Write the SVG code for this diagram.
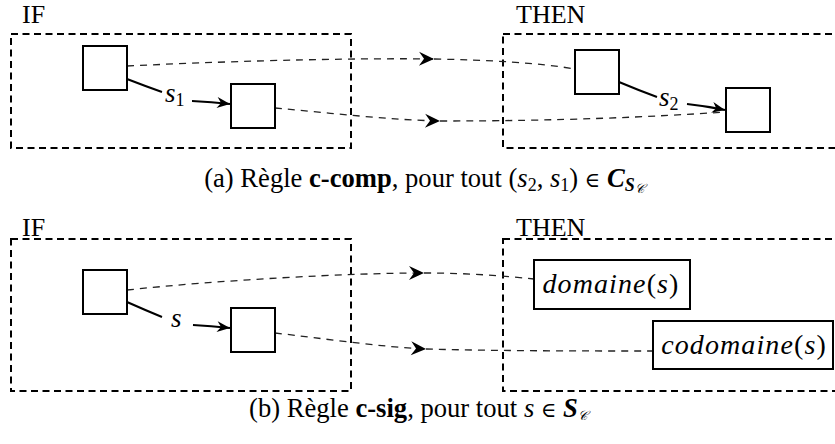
<svg xmlns="http://www.w3.org/2000/svg" width="835" height="444" viewBox="0 0 835 444">
<style>
text{font-family:"Liberation Serif","Times New Roman",serif;fill:#000}
.ttl{font-size:26px}
.cap{font-size:26.6px}
.frame{fill:none;stroke:#000;stroke-width:2;stroke-dasharray:7 4.5}
.box{fill:#fff;stroke:#000;stroke-width:2}
.link{fill:none;stroke:#222;stroke-width:1.3;stroke-dasharray:7 6}
.edge{fill:none;stroke:#000;stroke-width:2}
.it{font-style:italic}
.lbl{font-size:27px}
.sym{font-family:"DejaVu Serif","DejaVu Sans",serif;font-size:21px}
.scr{font-family:"DejaVu Serif","DejaVu Sans",serif;font-style:italic;font-size:13px}
.big{font-size:28px;letter-spacing:1.1px}
</style>
<defs>
<marker id="big" markerUnits="userSpaceOnUse" viewBox="-16 -8 17 16" refX="0" refY="0" markerWidth="17" markerHeight="16" orient="auto">
<path d="M0,0 L-15,-7 L-10,0 L-15,7 Z" fill="#000"/>
</marker>
<marker id="small" markerUnits="userSpaceOnUse" viewBox="-14 -7 15 14" refX="0" refY="0" markerWidth="15" markerHeight="14" orient="auto">
<path d="M0,0 L-13,-5.5 L-9,0 L-13,5.5 Z" fill="#000"/>
</marker>
</defs>

<!-- Panel (a) -->
<g id="frame-a-if">
<text class="ttl" x="22" y="23">IF</text>
<rect class="frame" x="11" y="34" width="340" height="114"/>
</g>
<g id="frame-a-then">
<text class="ttl" x="516" y="23">THEN</text>
<rect class="frame" x="503" y="34" width="345" height="114"/>
</g>

<g id="connectors-a">
<path class="link" d="M127,66 C250,60 370,58 434,59" marker-end="url(#big)"/>
<path class="link" d="M434,59 C490,60 540,63 575,69"/>
<path class="link" d="M275,108 C330,113 390,120 440,121" marker-end="url(#big)"/>
<path class="link" d="M440,121 C560,121 650,117 726,112"/>
<path class="edge" d="M127,79 Q145,86 162,92"/>
<path class="edge" d="M192,101 Q212,102 230,104" marker-end="url(#small)"/>
<path class="edge" d="M619,82 Q638,90 657,97"/>
<path class="edge" d="M687,104 Q706,106 725,110" marker-end="url(#small)"/>
<text class="lbl" x="165" y="102"><tspan class="it">s</tspan><tspan font-size="18" dy="4">1</tspan></text>
<text class="lbl" x="659" y="106"><tspan class="it">s</tspan><tspan font-size="18" dy="4">2</tspan></text>
</g>

<g id="a-n1"><rect class="box" x="83" y="46" width="44" height="44"/></g>
<g id="a-n2"><rect class="box" x="231" y="84" width="44" height="44"/></g>
<g id="a-n3"><rect class="box" x="575" y="50" width="44" height="44"/></g>
<g id="a-n4"><rect class="box" x="726" y="88" width="44" height="44"/></g>

<g id="caption-a">
<text class="cap" x="424" y="187" text-anchor="middle">(a) Règle <tspan font-weight="bold">c-comp</tspan>, pour tout (<tspan class="it">s</tspan><tspan font-size="18" dy="4">2</tspan><tspan dy="-4">, </tspan><tspan class="it">s</tspan><tspan font-size="18" dy="4">1</tspan><tspan dy="-4">) </tspan><tspan class="sym">∈</tspan> <tspan class="it" font-weight="bold">C</tspan><tspan class="it" font-weight="bold" font-size="18" dy="4">S</tspan><tspan class="scr" dy="2">𝒞</tspan></text>
</g>

<!-- Panel (b) -->
<g id="frame-b-if">
<text class="ttl" x="22" y="236">IF</text>
<rect class="frame" x="11" y="239" width="340" height="152"/>
</g>
<g id="frame-b-then">
<text class="ttl" x="516" y="236">THEN</text>
<rect class="frame" x="503" y="239" width="345" height="152"/>
</g>

<g id="connectors-b">
<path class="link" d="M127,290 C220,280 350,273 424,273" marker-end="url(#big)"/>
<path class="link" d="M424,273 C470,273 505,276 534,279"/>
<path class="link" d="M275,333 C320,338 380,347 426,349" marker-end="url(#big)"/>
<path class="link" d="M426,349 C500,351 580,351 653,351"/>
<path class="edge" d="M127,302 Q145,310 162,317"/>
<path class="edge" d="M193,325 Q211,326 230,328" marker-end="url(#small)"/>
<text class="lbl it" x="171" y="327">s</text>
</g>

<g id="b-n1"><rect class="box" x="83" y="270" width="44" height="44"/></g>
<g id="b-n2"><rect class="box" x="231" y="308" width="44" height="44"/></g>
<g id="b-domaine">
<rect class="box" x="534" y="260" width="156" height="49"/>
<text class="big" x="611" y="293" text-anchor="middle"><tspan class="it">domaine</tspan>(<tspan class="it">s</tspan>)</text>
</g>
<g id="b-codomaine">
<rect class="box" x="653" y="321" width="180" height="48"/>
<text class="big" x="744" y="354" text-anchor="middle"><tspan class="it">codomaine</tspan>(<tspan class="it">s</tspan>)</text>
</g>

<g id="caption-b">
<text class="cap" x="418" y="417" text-anchor="middle">(b) Règle <tspan font-weight="bold">c-sig</tspan>, pour tout <tspan class="it">s</tspan> <tspan class="sym">∈</tspan> <tspan class="it" font-weight="bold">S</tspan><tspan class="scr" dy="3">𝒞</tspan></text>
</g>
</svg>
